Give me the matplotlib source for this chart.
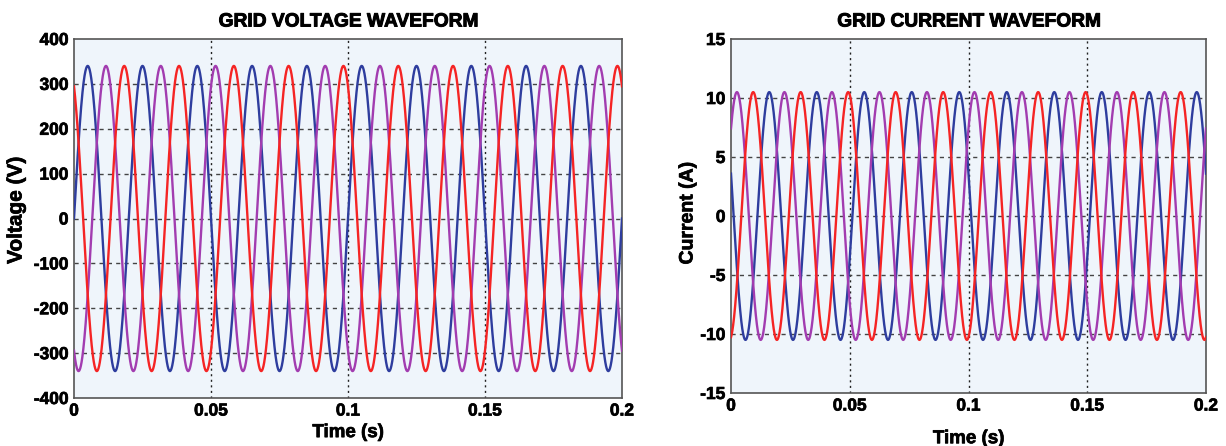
import numpy as np
import matplotlib
matplotlib.use("Agg")
import matplotlib.pyplot as plt
import matplotlib.patheffects as pe

plt.rcParams['font.family'] = ['Liberation Sans', 'DejaVu Sans']
plt.rcParams['font.weight'] = 'bold'
plt.rcParams['axes.unicode_minus'] = False

# ---- data ----
t_end = 0.2                      # s
freq_hz = 50.0                   # grid frequency
voltage_amp = 340.0              # V peak
current_amp = 10.5               # A peak
phase_names = ["blue", "purple", "red"]
voltage_phase_deg = [0.0, -120.0, -240.0]
current_phase_deg = [-200.0, 45.0, -78.0]
phase_colors = ["#2E3D9E", "#A23CB0", "#F52424"]

x_ticks = [0, 0.05, 0.1, 0.15, 0.2]
x_tick_labels = ["0", "0.05", "0.1", "0.15", "0.2"]
v_ticks = [400, 300, 200, 100, 0, -100, -200, -300, -400]
i_ticks = [15, 10, 5, 0, -5, -10, -15]

t = np.linspace(0, t_end, 4001)

W, H = 1226, 446
fig = plt.figure(figsize=(W / 100, H / 100), dpi=100)

def px_axes(l, t_, r, b):
    return fig.add_axes([l / W, 1 - b / H, (r - l) / W, (b - t_) / H])

ax1 = px_axes(74, 39, 622, 398)
ax2 = px_axes(731, 39, 1206, 393)

heavy = [pe.withStroke(linewidth=0.7, foreground="black")]

def style(ax, yticks, ylim, ylabel, ylabel_xy, title, xlabel_pad, ylabel_size):
    ax.set_facecolor("#EFF5FB")
    ax.set_xlim(0, t_end)
    ax.set_ylim(*ylim)
    ax.set_xticks(x_ticks)
    ax.set_xticklabels(x_tick_labels)
    ax.set_yticks(yticks)
    ax.tick_params(axis='both', direction='in', length=0, labelsize=12.5, pad=4)
    for lab in ax.get_xticklabels() + ax.get_yticklabels():
        lab.set_fontweight('bold')
        lab.set_path_effects([pe.withStroke(linewidth=0.5, foreground="black")])
    for s in ax.spines.values():
        s.set_color("#555555")
        s.set_linewidth(1.2)
    for xv in x_ticks[1:-1]:
        ax.axvline(xv, color="#222222", lw=1.0, ls=(0, (1.5, 2.5)), zorder=1)
    for yv in yticks[1:-1]:
        ax.axhline(yv, color="#444444", lw=1.0, ls=(0, (3, 3)), zorder=1)
    ax.set_title(title, fontsize=13.8, fontweight='bold', pad=9, path_effects=heavy)
    ax.set_xlabel("Time (s)", fontsize=13.5, fontweight='bold', labelpad=xlabel_pad,
                  path_effects=[pe.withStroke(linewidth=0.5, foreground="black")])
    fig.text(ylabel_xy[0] / W, 1 - ylabel_xy[1] / H, ylabel, rotation=90,
             ha='center', va='center', fontsize=ylabel_size, fontweight='bold',
             path_effects=[pe.withStroke(linewidth=0.5, foreground="black")])

omega = 2 * np.pi * freq_hz
for ph, c in zip(voltage_phase_deg, phase_colors):
    ax1.plot(t, voltage_amp * np.sin(omega * t + np.deg2rad(ph)), color=c, lw=1.7, zorder=3)
for ph, c in zip(current_phase_deg, phase_colors):
    ax2.plot(t, current_amp * np.sin(omega * t + np.deg2rad(ph)), color=c, lw=1.7, zorder=3)

style(ax1, v_ticks, (-400, 400), "Voltage (V)", (16, 210), "GRID VOLTAGE WAVEFORM", 4, 15)
style(ax2, i_ticks, (-15, 15), "Current (A)", (688, 213), "GRID CURRENT WAVEFORM", 12, 14)

fig.savefig("out.png", dpi=100)
